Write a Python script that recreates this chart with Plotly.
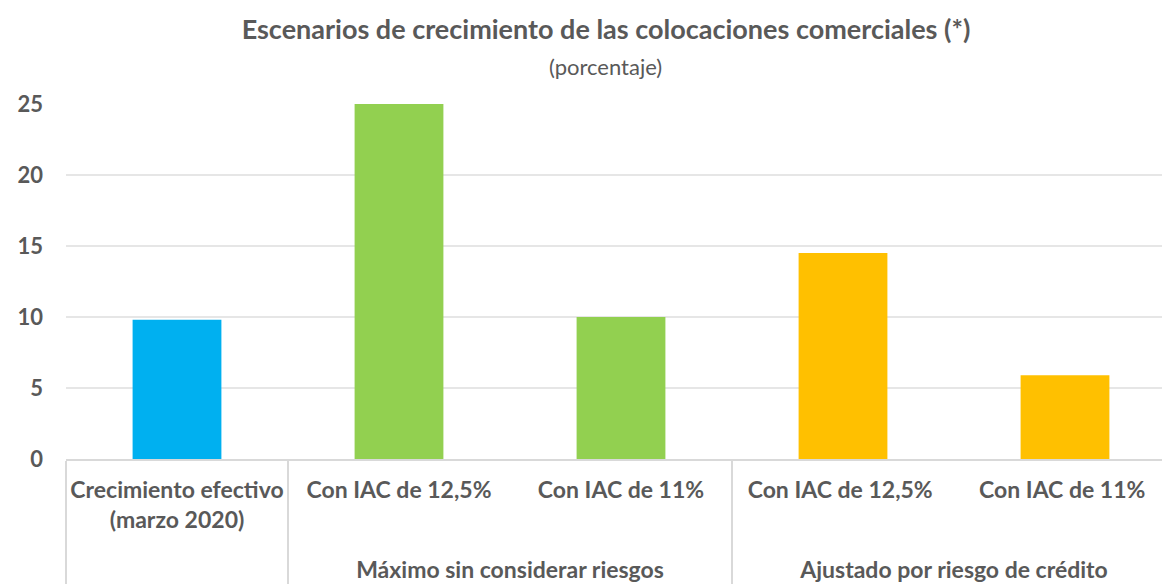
import plotly.graph_objects as go

groups = ["", "Máximo sin considerar riesgos", "Máximo sin considerar riesgos",
          "Ajustado por riesgo de crédito", "Ajustado por riesgo de crédito"]
categories = ["Crecimiento efectivo<br>(marzo 2020)<br> ", "Con IAC de 12,5%", "Con IAC de 11%",
              "Con IAC de 12,5% ", "Con IAC de 11% "]
values = [9.8, 25.0, 10.0, 14.5, 5.9]
colors = ["#00B0F0", "#92D050", "#92D050", "#FFC000", "#FFC000"]
y_ticks = [0, 5, 10, 15, 20, 25]

font_family = "Lato, Open Sans, sans-serif"
text_color = "#595959"

# page body has an 8px default margin; the plot area runs slightly past the right window edge
W, H = 1168, 576

fig = go.Figure(go.Bar(
    x=[groups, categories],
    y=values,
    marker=dict(color=colors, line=dict(width=0)),
    hoverinfo="y",
))

fig.update_layout(
    width=W, height=H,
    margin=dict(l=58, r=0, t=96, b=125),
    paper_bgcolor="white", plot_bgcolor="white",
    bargap=0.6,
    showlegend=False,
    font=dict(family=font_family, color=text_color, size=23),
    title=dict(
        text="<b>Escenarios de crecimiento de las colocaciones comerciales (*)</b>",
        xref="container", x=598 / W, xanchor="center",
        yref="container", y=1 - 22 / H, yanchor="middle",
        font=dict(size=27, color=text_color, family=font_family),
    ),
    annotations=[dict(
        text="(porcentaje)", showarrow=False,
        xref="paper", x=(597 - 58) / (W - 58), xanchor="center",
        yref="paper", y=1 + 37 / 355, yanchor="middle",
        font=dict(size=22, color=text_color, family=font_family),
    )],
)

fig.update_yaxes(
    range=[0, 25], tickvals=y_ticks,
    showgrid=True, gridcolor="#E6E6E6", gridwidth=1.5,
    zeroline=False, showline=False,
    ticklabelstandoff=22, automargin=False,
    tickfont=dict(size=22, color=text_color, weight="bold"),
)
fig.update_xaxes(
    type="multicategory",
    tickangle=0, automargin=False,
    showline=True, linecolor="#D9D9D9", linewidth=1.5,
    showdividers=True, dividercolor="#D9D9D9", dividerwidth=1.5,
    ticklabelstandoff=10,
    tickfont=dict(size=23, color=text_color, weight="bold"),
)

fig.write_html("out.html")
